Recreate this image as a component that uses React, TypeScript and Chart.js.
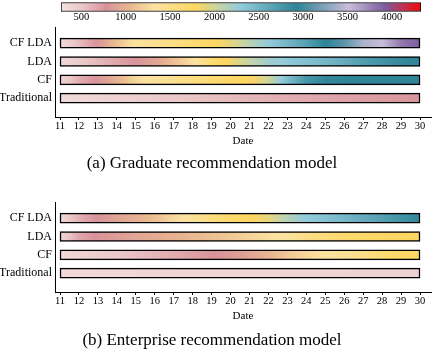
import React, { useEffect, useRef } from 'react';
import { Chart, registerables } from 'chart.js';

Chart.register(...registerables);

const dates = [11, 12, 13, 14, 15, 16, 17, 18, 19, 20, 21, 22, 23, 24, 25, 26, 27, 28, 29, 30];
const rowLabels = ['Traditional', 'CF', 'LDA', 'CF LDA'];

// (a) Graduate recommendation model
const gradTraditional = [340, 360, 385, 410, 440, 465, 495, 520, 545, 570, 595, 615, 640, 660, 680, 700, 715, 735, 750, 765];
const gradCF = [360, 640, 800, 1000, 1250, 1380, 1450, 1550, 1650, 1730, 1790, 2000, 2420, 2780, 2900, 2920, 2920, 2920, 2920, 2920];
const gradLDA = [360, 470, 580, 680, 780, 900, 1100, 1300, 1650, 1850, 2050, 2220, 2310, 2400, 2480, 2580, 2700, 2800, 2880, 2920];
const gradCFLDA = [340, 560, 790, 1100, 1350, 1420, 1520, 1650, 1760, 1900, 2100, 2300, 2480, 2680, 2920, 3100, 3400, 3520, 3800, 3920];

// (b) Enterprise recommendation model
const entTraditional = [340, 350, 355, 360, 365, 370, 370, 375, 380, 380, 385, 385, 390, 390, 395, 395, 400, 400, 400, 405];
const entCF = [350, 400, 450, 500, 550, 600, 650, 710, 770, 820, 920, 1020, 1150, 1250, 1330, 1400, 1500, 1650, 1740, 1780];
const entLDA = [380, 680, 790, 860, 920, 970, 1010, 1060, 1100, 1150, 1230, 1300, 1360, 1500, 1600, 1680, 1720, 1750, 1770, 1780];
const entCFLDA = [350, 620, 790, 900, 1000, 1100, 1250, 1380, 1550, 1700, 1790, 1900, 2130, 2300, 2380, 2480, 2580, 2690, 2800, 2910];

const colorbarTicks = [500, 1000, 1500, 2000, 2500, 3000, 3500, 4000];
const colorbarMin = 270;
const colorbarMax = 4330;

const cmapStops: [number, string][] = [
  [0, '#f4e2e2'],
  [0.06, '#eac6c7'],
  [0.125, '#d8939a'],
  [0.19, '#e9b690'],
  [0.26, '#fbe3a0'],
  [0.375, '#fdd660'],
  [0.44, '#c4d4a8'],
  [0.5, '#92cbdb'],
  [0.655, '#2e8497'],
  [0.8, '#c9bdd9'],
  [0.9, '#7b5c9d'],
  [0.95, '#c2314f'],
  [1, '#f00808'],
];

const SERIF = "'Liberation Serif', 'Times New Roman', serif";

function hexToRgb(h: string): number[] {
  const n = parseInt(h.slice(1), 16);
  return [(n >> 16) & 255, (n >> 8) & 255, n & 255];
}

function cmap(v: number): string {
  const t = Math.min(1, Math.max(0, (v - colorbarMin) / (colorbarMax - colorbarMin)));
  for (let i = 0; i < cmapStops.length - 1; i++) {
    const [t0, c0] = cmapStops[i];
    const [t1, c1] = cmapStops[i + 1];
    if (t <= t1) {
      const f = (t - t0) / (t1 - t0);
      const a = hexToRgb(c0);
      const b = hexToRgb(c1);
      const m = a.map((x, j) => Math.round(x + (b[j] - x) * f));
      return `rgb(${m[0]},${m[1]},${m[2]})`;
    }
  }
  return cmapStops[cmapStops.length - 1][1];
}

function rowGradient(chart: any, values: number[]) {
  const xs = chart.scales.x;
  const x0 = xs.getPixelForValue(dates[0]);
  const x1 = xs.getPixelForValue(dates[dates.length - 1]);
  const g = chart.ctx.createLinearGradient(x0, 0, x1, 0);
  const S = 6;
  for (let i = 0; i < values.length - 1; i++) {
    for (let k = 0; k < S; k++) {
      const f = k / S;
      const d = dates[i] + f * (dates[i + 1] - dates[i]);
      const v = values[i] + f * (values[i + 1] - values[i]);
      g.addColorStop((xs.getPixelForValue(d) - x0) / (x1 - x0), cmap(v));
    }
  }
  g.addColorStop(1, cmap(values[values.length - 1]));
  return g;
}

function colorbarGradient(chart: any) {
  const xs = chart.scales.x;
  const x0 = xs.getPixelForValue(colorbarMin);
  const x1 = xs.getPixelForValue(colorbarMax);
  const g = chart.ctx.createLinearGradient(x0, 0, x1, 0);
  cmapStops.forEach(([t, c]) => g.addColorStop(t, c));
  return g;
}

function colorbarConfig(): any {
  return {
    type: 'bar',
    data: {
      labels: ['colorbar'],
      datasets: [
        {
          data: [[colorbarMin, colorbarMax]],
          backgroundColor: (c: any) => (c.chart.chartArea ? colorbarGradient(c.chart) : 'transparent'),
          borderColor: '#000',
          borderWidth: 1,
          borderSkipped: false,
          barThickness: 9,
        },
      ],
    },
    options: {
      indexAxis: 'y',
      animation: false,
      responsive: false,
      devicePixelRatio: 1,
      layout: { padding: { left: 61, right: 11, top: 1, bottom: 0 } },
      plugins: { legend: { display: false }, tooltip: { enabled: false } },
      scales: {
        x: {
          type: 'linear',
          min: colorbarMin,
          max: colorbarMax,
          offset: false,
          afterBuildTicks: (s: any) => {
            s.ticks = colorbarTicks.map((v) => ({ value: v }));
          },
          afterFit: (s: any) => {
            s.height = 11;
          },
          ticks: {
            font: { family: SERIF, size: 10.5 },
            color: '#000',
            padding: -2,
            maxRotation: 0,
            autoSkip: false,
            callback: (v: any) => String(v),
          },
          grid: { display: false, drawTicks: false },
          border: { display: false },
        },
        y: { display: false },
      },
    },
  };
}

function panelConfig(rows: number[][]): any {
  return {
    type: 'bar',
    data: {
      datasets: [
        {
          data: rows.map((_, i) => ({ x: [dates[0], dates[dates.length - 1]], y: i })),
          backgroundColor: (c: any) =>
            c.chart.chartArea && c.dataIndex != null ? rowGradient(c.chart, rows[c.dataIndex]) : 'transparent',
          borderColor: '#000',
          borderWidth: 1.5,
          borderSkipped: false,
          barThickness: 10,
        },
      ],
    },
    options: {
      indexAxis: 'y',
      animation: false,
      responsive: false,
      devicePixelRatio: 1,
      layout: { padding: { left: 0, right: 1, top: 6, bottom: 0 } },
      plugins: { legend: { display: false }, tooltip: { enabled: false } },
      scales: {
        x: {
          type: 'linear',
          min: 10.736,
          max: 30.58,
          offset: false,
          afterBuildTicks: (s: any) => {
            s.ticks = dates.map((v) => ({ value: v }));
          },
          afterFit: (s: any) => {
            s.height = 31;
          },
          ticks: {
            font: { family: SERIF, size: 10.5 },
            color: '#000',
            padding: 0,
            maxRotation: 0,
            autoSkip: false,
            callback: (v: any) => String(v),
          },
          grid: { drawOnChartArea: false, drawTicks: true, tickLength: 3, color: '#000', offset: false },
          border: { display: true, color: '#000', width: 1 },
          title: { display: true, text: 'Date', font: { family: SERIF, size: 11 }, color: '#000', padding: 0 },
        },
        y: {
          type: 'linear',
          min: -1.026,
          max: 3.87,
          offset: false,
          afterBuildTicks: (s: any) => {
            s.ticks = rowLabels.map((_, i) => ({ value: i }));
          },
          afterFit: (s: any) => {
            s.width = 55;
          },
          ticks: {
            font: { family: SERIF, size: 12 },
            color: '#000',
            padding: 3,
            callback: (v: any) => rowLabels[v] ?? '',
          },
          grid: { drawOnChartArea: false, drawTicks: false, offset: false },
          border: { display: true, color: '#000', width: 1 },
        },
      },
    },
  };
}

export default function App() {
  const cbRef = useRef<HTMLCanvasElement>(null);
  const aRef = useRef<HTMLCanvasElement>(null);
  const bRef = useRef<HTMLCanvasElement>(null);

  useEffect(() => {
    const charts = [
      new Chart(cbRef.current!, colorbarConfig()),
      new Chart(aRef.current!, panelConfig([gradTraditional, gradCF, gradLDA, gradCFLDA])),
      new Chart(bRef.current!, panelConfig([entTraditional, entCF, entLDA, entCFLDA])),
    ];
    return () => charts.forEach((c) => c.destroy());
  }, []);

  const captionStyle: React.CSSProperties = {
    position: 'absolute',
    left: 0,
    width: 424,
    height: 20,
    lineHeight: '20px',
    textAlign: 'center',
    fontFamily: SERIF,
    fontSize: 17,
    color: '#000',
    whiteSpace: 'nowrap',
  };

  return (
    <div style={{ position: 'fixed', left: 0, top: 0, width: 432, height: 353, background: '#fff', overflow: 'hidden' }}>
      <canvas ref={cbRef} width={432} height={24} style={{ position: 'absolute', left: 0, top: 0 }} />
      <canvas ref={aRef} width={432} height={131} style={{ position: 'absolute', left: 0, top: 17 }} />
      <div style={{ ...captionStyle, top: 153 }}>(a) Graduate recommendation model</div>
      <canvas ref={bRef} width={432} height={131} style={{ position: 'absolute', left: 0, top: 192 }} />
      <div style={{ ...captionStyle, top: 330 }}>(b) Enterprise recommendation model</div>
    </div>
  );
}
